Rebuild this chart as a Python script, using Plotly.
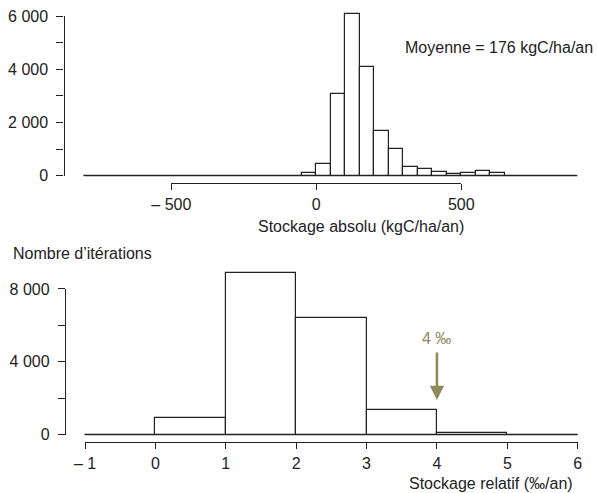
import plotly.graph_objects as go

# ---------------- data ----------------
abs_edges = list(range(-800, 901, 50))          # bin edges, kgC/ha/an
abs_nonzero_start = -50
abs_counts_nonzero = [100, 450, 3070, 6080, 4080, 1680, 1020, 330, 240, 140, 80, 90, 170, 90]
rel_edges = [-1, 0, 1, 2, 3, 4, 5, 6]           # ‰/an
rel_counts = [0, 920, 8860, 6400, 1360, 90, 0]

abs_xticks = [-500, 0, 500]
abs_xticklabels = ["– 500", "0", "500"]
abs_yticks = [0, 1000, 2000, 3000, 4000, 5000, 6000]
abs_yticklabels = ["0", "", "2 000", "", "4 000", "", "6 000"]
rel_xticks = [-1, 0, 1, 2, 3, 4, 5, 6]
rel_xticklabels = ["– 1", "0", "1", "2", "3", "4", "5", "6"]
rel_yticks = [0, 2000, 4000, 6000, 8000]
rel_yticklabels = ["0", "", "4 000", "", "8 000"]

mean_text = "Moyenne = 176 kgC/ha/an"
threshold = 4
threshold_text = "4 ‰"

# build full count list for absolute histogram
abs_counts = []
k = 0
for i in range(len(abs_edges) - 1):
    lo = abs_edges[i]
    if lo >= abs_nonzero_start and k < len(abs_counts_nonzero):
        abs_counts.append(abs_counts_nonzero[k]); k += 1
    else:
        abs_counts.append(0)

# ---------------- geometry helpers ----------------
W, H = 597, 493
def px(x): return x / W
def py(y): return 1 - y / H

FONT = "Liberation Sans, Arial, Helvetica, sans-serif"
TXT = "#222222"
AX = "#222222"
OLIVE = "#8f8a5c"
FS = 16

def centers(edges):
    return [(edges[i] + edges[i + 1]) / 2 for i in range(len(edges) - 1)]
def widths(edges):
    return [edges[i + 1] - edges[i] for i in range(len(edges) - 1)]

fig = go.Figure()

# top histogram
fig.add_trace(go.Scatter(x=[abs_edges[0], abs_edges[-1]], y=[0, 0], mode="lines",
                         line=dict(color=AX, width=1.3), xaxis="x", yaxis="y",
                         hoverinfo="skip", showlegend=False))
fig.add_trace(go.Bar(x=centers(abs_edges), y=abs_counts, width=widths(abs_edges),
                     marker=dict(color="white", line=dict(color=AX, width=1.2)),
                     xaxis="x", yaxis="y", showlegend=False))
# bottom histogram
fig.add_trace(go.Scatter(x=[rel_edges[0], rel_edges[-1]], y=[0, 0], mode="lines",
                         line=dict(color=AX, width=1.3), xaxis="x2", yaxis="y2",
                         hoverinfo="skip", showlegend=False))
fig.add_trace(go.Bar(x=centers(rel_edges), y=rel_counts, width=widths(rel_edges),
                     marker=dict(color="white", line=dict(color=AX, width=1.2)),
                     xaxis="x2", yaxis="y2", showlegend=False))
# invisible traces for display axes
fig.add_trace(go.Scatter(x=[None], y=[None], xaxis="x3", yaxis="y3", showlegend=False))
fig.add_trace(go.Scatter(x=[None], y=[None], xaxis="x4", yaxis="y4", showlegend=False))

# data-axis pixel mappings (page pixels)
tx0, tsx = 316.3, 0.29
ty0, tsy = 175.7, 0.0266
bx0, bsx = 85 + 70.39, 70.39
by0, bsy = 434.7, 0.018213

dom_x = [63, 597]
top_dom_y = [10, 180]
bot_dom_y = [265, 440]

hidden = dict(visible=False, fixedrange=True, automargin=False)

tickfont = dict(family=FONT, size=FS, color=TXT)
common = dict(showline=True, linecolor=AX, linewidth=1.3, ticks="outside",
              tickwidth=1.3, tickcolor=AX, showgrid=False, zeroline=False,
              tickfont=tickfont, fixedrange=True, automargin=False,
              ticklabeloverflow="allow")

fig.update_layout(
    template="none",
    width=W, height=H,
    margin=dict(l=0, r=0, t=0, b=0, autoexpand=False),
    paper_bgcolor="white", plot_bgcolor="rgba(0,0,0,0)",
    bargap=0, showlegend=False,
    font=dict(family=FONT, size=FS, color=TXT),
    xaxis=dict(domain=[px(dom_x[0]), px(dom_x[1])],
               range=[(dom_x[0] - tx0) / tsx, (dom_x[1] - tx0) / tsx],
               anchor="y", **hidden),
    yaxis=dict(domain=[py(top_dom_y[1]), py(top_dom_y[0])],
               range=[(ty0 - top_dom_y[1]) / tsy, (ty0 - top_dom_y[0]) / tsy],
               anchor="x", **hidden),
    xaxis2=dict(domain=[px(dom_x[0]), px(dom_x[1])],
                range=[(dom_x[0] - bx0) / bsx, (dom_x[1] - bx0) / bsx],
                anchor="y2", **hidden),
    yaxis2=dict(domain=[py(bot_dom_y[1]), py(bot_dom_y[0])],
                range=[(by0 - bot_dom_y[1]) / bsy, (by0 - bot_dom_y[0]) / bsy],
                anchor="x2", **hidden),
    xaxis3=dict(domain=[px(tx0 - 500 * tsx), px(tx0 + 500 * tsx)], range=[-500, 500],
                anchor="free", position=py(183.3),
                tickvals=abs_xticks, ticktext=abs_xticklabels, ticklen=6, **common),
    yaxis3=dict(domain=[py(ty0), py(ty0 - 6000 * tsy)], range=[0, 6000],
                anchor="free", position=px(63.5),
                tickvals=abs_yticks, ticktext=abs_yticklabels, ticklen=7,
                ticklabelstandoff=5, **common),
    xaxis4=dict(domain=[px(85), px(85 + 7 * bsx)], range=[-1, 6],
                anchor="free", position=py(442.3),
                tickvals=rel_xticks, ticktext=rel_xticklabels, ticklen=6, **common),
    yaxis4=dict(domain=[py(by0), py(by0 - 8000 * bsy)], range=[0, 8000],
                anchor="free", position=px(65),
                tickvals=rel_yticks, ticktext=rel_yticklabels, ticklen=7,
                ticklabelstandoff=5, **common),
)

annos = [
    dict(text=mean_text, x=px(595), y=py(47), xref="paper", yref="paper",
         xanchor="right", yanchor="middle", showarrow=False),
    dict(text="Stockage absolu (kgC/ha/an)", x=px(361), y=py(226), xref="paper", yref="paper",
         xanchor="center", yanchor="middle", showarrow=False),
    dict(text="Nombre d’itérations", x=px(11), y=py(254), xref="paper", yref="paper",
         xanchor="left", yanchor="middle", showarrow=False),
    dict(text="Stockage relatif (‰/an)", x=px(491), y=py(483), xref="paper", yref="paper",
         xanchor="center", yanchor="middle", showarrow=False),
    # threshold arrow
    dict(text="", x=threshold, y=(by0 - 400) / bsy, xref="x2", yref="y2",
         showarrow=True, ax=0, ay=-49, axref="pixel", ayref="pixel",
         arrowhead=2, arrowsize=1.1, arrowwidth=2.6, arrowcolor=OLIVE, standoff=0),
    dict(text=threshold_text, x=threshold, y=(by0 - 338) / bsy, xref="x2", yref="y2",
         xanchor="center", yanchor="middle", showarrow=False,
         font=dict(family=FONT, size=FS, color=OLIVE)),
]
fig.update_layout(annotations=annos)

fig.write_html(
    "out.html",
    config={"displayModeBar": False},
    post_script="document.body.style.margin='0';"
                "document.documentElement.style.overflow='hidden';",
)
